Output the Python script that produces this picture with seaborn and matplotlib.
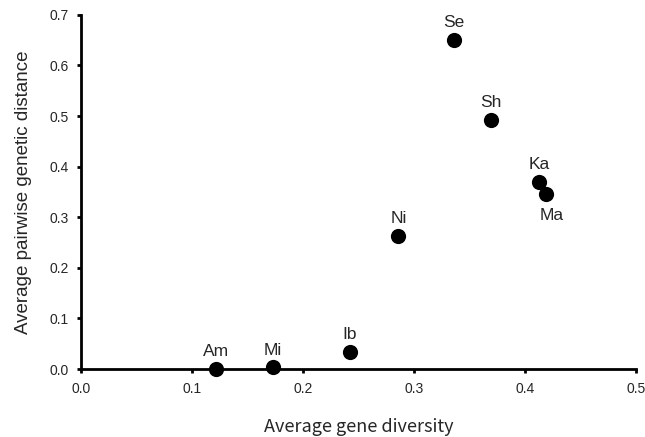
import pandas as pd
import seaborn as sns
import matplotlib.pyplot as plt

# population codes and values
pops = ["Am", "Mi", "Ib", "Ni", "Se", "Sh", "Ka", "Ma"]
gene_div = [0.122, 0.173, 0.242, 0.286, 0.336, 0.369, 0.413, 0.419]
pair_dist = [0.000, 0.003, 0.034, 0.263, 0.650, 0.492, 0.370, 0.345]

xticks = [0.0, 0.1, 0.2, 0.3, 0.4, 0.5]
yticks = [0.0, 0.1, 0.2, 0.3, 0.4, 0.5, 0.6, 0.7]

df = pd.DataFrame({"pop": pops, "x": gene_div, "y": pair_dist})

sns.set_style("ticks")
plt.rcParams['font.family'] = ['Liberation Sans', 'DejaVu Sans']

fig = plt.figure(figsize=(6.45, 4.37), dpi=100)
ax = fig.add_axes([0.1256, 0.1556, 0.8604, 0.8104])

sns.scatterplot(data=df, x="x", y="y", ax=ax, s=120, color="black",
                edgecolor="black", linewidth=0, clip_on=False, zorder=3)

# labels above the dots, Ma sits below-right
for p, xv, yv in zip(pops, gene_div, pair_dist):
    if p == "Ma":
        ax.annotate(p, (xv, yv), xytext=(4, -10), textcoords="offset points",
                    ha="center", va="top", fontsize=12.5)
    else:
        ax.annotate(p, (xv, yv), xytext=(0, 7), textcoords="offset points",
                    ha="center", va="bottom", fontsize=12.5)

ax.set_xlim(0, 0.5)
ax.set_ylim(0, 0.7)
ax.set_xticks(xticks)
ax.set_yticks(yticks)
ax.set_xticklabels([f"{t:.1f}" for t in xticks], fontsize=10)
ax.set_yticklabels([f"{t:.1f}" for t in yticks], fontsize=10)
ax.tick_params(direction="out", length=3, width=2, color="black", pad=6)

sns.despine(ax=ax)
for side in ["left", "bottom"]:
    ax.spines[side].set_linewidth(2)
    ax.spines[side].set_color("black")

ax.set_xlabel("Average gene diversity", fontsize=13, labelpad=16,
              family=['Noto Sans CJK JP', 'DejaVu Sans'])
ax.set_ylabel("Average pairwise genetic distance", fontsize=13.5, labelpad=12)

plt.savefig("out.png", dpi=100)
